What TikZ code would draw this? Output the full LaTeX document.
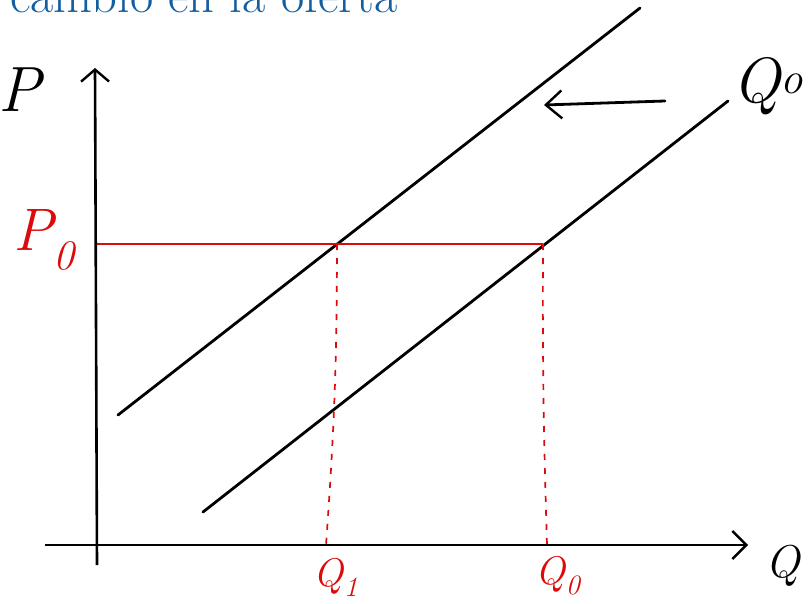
\documentclass[tikz,border=0pt]{standalone}
\usetikzlibrary{arrows.meta}
\definecolor{titleblue}{RGB}{20,94,160}
\definecolor{penred}{RGB}{220,10,10}
\begin{document}
\begin{tikzpicture}[
	x=1pt, y=-1pt,
	curve/.style={ line width=2.8pt, black, line cap=round },
	axis/.style={ line width=2.6pt, black },
	level/.style={ line width=2.4pt, penred },
	drop/.style={ line width=1.7pt, penred, dash pattern=on 6pt off 8pt },
	hand/.style={ inner sep=0pt, font=\fontsize{#1}{#1}\selectfont\itshape },
	barb/.style={ -{Straight Barb[length=#1,width=28pt,line width=2.4pt]} }
]
\useasboundingbox (0,0) rectangle (810,604);
\clip (0,0) rectangle (810,604);

\node at (10,13) (title) [anchor=base west, inner sep=0pt, titleblue, font=\fontsize{50.5}{56}\selectfont] {cambio en la oferta};

% axes
\coordinate (ybot) at (97,565);
\coordinate (ytop) at (95,68);
\coordinate (xleft) at (45,545);
\coordinate (xright) at (748,545);
\draw[axis, barb=12pt] (ybot) -- (ytop);
\draw[axis, barb=14pt] (xleft) -- (xright);
\node at (20,90) (P) [hand=64] {P};
\node at (783,566) (Q) [hand=46] {Q};

% supply curves
\coordinate (S1a) at (118,415);
\coordinate (S1b) at (640,8);
\coordinate (S0a) at (203,512);
\coordinate (S0b) at (728,101);
\draw[curve] (S1a) -- (S1b);
\draw[curve] (S0a) -- (S0b);
\node at (768,86) (Qo) [hand=64] {Q\textsuperscript{o}};

% shift
\coordinate (shiftR) at (665,101);
\coordinate (shiftL) at (544,105);
\draw[curve, barb=16pt] (shiftR) -- (shiftL);

% price level and quantities
\coordinate (Pax) at (97,244);
\coordinate (E1) at (337,244);
\coordinate (E0) at (543,244);
\coordinate (Q1ax) at (326,545);
\coordinate (Q0ax) at (547,545);
\draw[level] (Pax) -- (E0);
\draw[drop] (E1) to[bend left=2] (Q1ax);
\draw[drop] (E0) to[bend right=1] (Q0ax);
\node at (44,240) (P0) [hand=60, penred] {P\textsubscript{0}};
\node at (336,577) (Q1) [hand=40, penred] {Q\textsubscript{1}};
\node at (558,576) (Q0) [hand=40, penred] {Q\textsubscript{0}};

\end{tikzpicture}
\end{document}
